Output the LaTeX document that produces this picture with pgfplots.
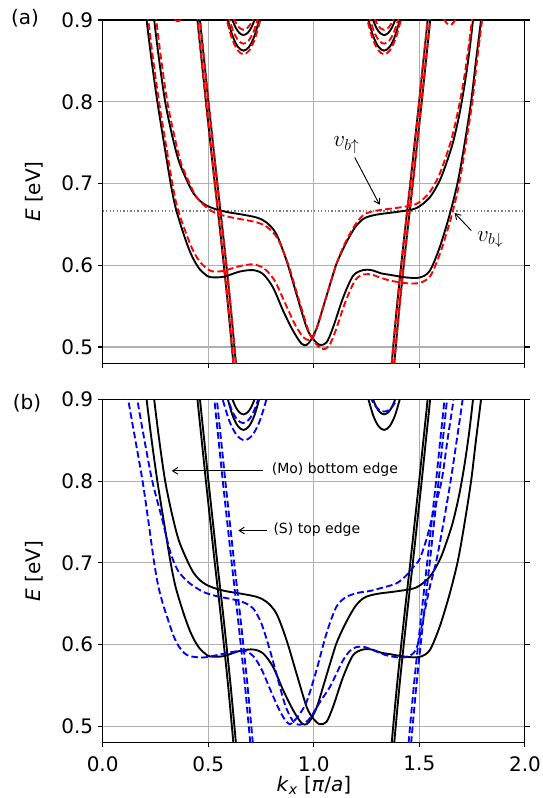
\documentclass[border=0pt]{standalone}
\usepackage[no-math]{fontspec}
\setmainfont{DejaVu Sans}
\usepackage{pgfplots}
\pgfplotsset{compat=1.18}
\usepackage{pgfplotstable}
\usetikzlibrary{arrows.meta}
\definecolor{gridgray}{RGB}{176,176,176}

% --- Mo-edge bands (black, same in both panels) ---
\pgfplotstableread{
k E
0.200 0.92
0.208 0.9
0.232 0.85
0.259 0.8
0.290 0.75
0.322 0.7
0.343 0.673
0.365 0.653
0.390 0.633
0.413 0.617
0.435 0.605
0.460 0.595
0.485 0.589
0.508 0.5855
0.571 0.5858
0.650 0.5923
0.713 0.594
0.760 0.5891
0.807 0.5727
0.855 0.5442
0.902 0.5197
0.942 0.5040
0.966 0.5026
0.989 0.5096
1.015 0.524
1.044 0.5483
1.075 0.575
1.107 0.6014
1.139 0.620
1.170 0.6355
1.200 0.648
1.233 0.6564
1.265 0.660
1.312 0.6625
1.407 0.6657
1.486 0.6699
1.549 0.6829
1.596 0.7033
1.628 0.725
1.659 0.750
1.690 0.785
1.715 0.822
1.736 0.860
1.754 0.9
1.760 0.92
}\Bone
\pgfplotstableread{
k E
0.238 0.92
0.244 0.9
0.268 0.85
0.296 0.80
0.328 0.76
0.360 0.728
0.400 0.703
0.430 0.688
0.460 0.679
0.492 0.673
0.542 0.668
0.600 0.6645
0.650 0.6625
0.729 0.6584
0.776 0.6523
0.823 0.638
0.871 0.6054
0.918 0.5646
0.966 0.5238
0.997 0.5096
1.028 0.5026
1.060 0.5054
1.091 0.5238
1.139 0.5605
1.186 0.587
1.233 0.594
1.273 0.594
1.320 0.590
1.360 0.5883
1.439 0.585
1.502 0.585
1.549 0.5931
1.596 0.6217
1.644 0.6625
1.683 0.7033
1.715 0.75
1.745 0.80
1.768 0.85
1.792 0.9
1.799 0.92
}\Btwo
% --- S-edge doublets (black) ---
\pgfplotstableread{
k E
0.444 0.92
0.449 0.9
0.469 0.85
0.489 0.8
0.510 0.75
0.531 0.7
0.553 0.65
0.574 0.6
0.594 0.55
0.612 0.5
0.619 0.48
0.627 0.46
}\Lone
\pgfplotstableread{
k E
0.456 0.92
0.461 0.9
0.481 0.85
0.501 0.8
0.522 0.75
0.543 0.7
0.565 0.65
0.586 0.6
0.606 0.55
0.624 0.5
0.631 0.48
0.639 0.46
}\Ltwo
\pgfplotstableread{
k E
1.556 0.92
1.551 0.9
1.531 0.85
1.511 0.8
1.490 0.75
1.469 0.7
1.447 0.65
1.426 0.6
1.406 0.55
1.388 0.5
1.381 0.48
1.373 0.46
}\Rone
\pgfplotstableread{
k E
1.544 0.92
1.539 0.9
1.519 0.85
1.499 0.8
1.478 0.75
1.457 0.7
1.435 0.65
1.414 0.6
1.394 0.55
1.376 0.5
1.369 0.48
1.361 0.46
}\Rtwo
% --- pockets at K (black) ---
\pgfplotstableread{
k E
0.6087 0.9039
0.6299 0.8906
0.6484 0.8839
0.667 0.8816
0.6856 0.8839
0.7041 0.8906
0.7253 0.9039
}\PKa
\pgfplotstableread{
k E
0.5845 0.9079
0.6145 0.8809
0.6407 0.8671
0.667 0.8625
0.6933 0.8671
0.7195 0.8809
0.7495 0.9079
}\PKb
\pgfplotstableread{
k E
1.2747 0.9039
1.2959 0.8906
1.3144 0.8839
1.333 0.8816
1.3516 0.8839
1.3701 0.8906
1.3913 0.9039
}\PKc
\pgfplotstableread{
k E
1.2505 0.9079
1.2805 0.8809
1.3067 0.8671
1.333 0.8625
1.3593 0.8671
1.3855 0.8809
1.4155 0.9079
}\PKd

\pgfplotsset{
  band/.style={
    width=316.7pt, height=257.5pt, scale only axis,
    xmin=0, xmax=2, ymin=0.48, ymax=0.9,
    xtick={0,0.5,1,1.5,2}, ytick={0.5,0.6,0.7,0.8,0.9},
    grid=major, major grid style={gridgray, line width=0.8pt},
    axis line style={line width=0.8pt},
    tick align=outside, xtick pos=left, ytick pos=both, yticklabel pos=left,
    major tick length=3.6pt, every tick/.style={black, line width=0.8pt},
    ticklabel style={font=\fontsize{15}{18}\selectfont},
    xticklabel style={yshift=-3pt, /pgf/number format/fixed, /pgf/number format/fixed zerofill,
      /pgf/number format/precision=1, /pgf/number format/assume math mode=true},
    yticklabel style={/pgf/number format/fixed, /pgf/number format/fixed zerofill,
      /pgf/number format/precision=1, /pgf/number format/assume math mode=true},
    ylabel={\textit{E} [eV]},
    every axis y label/.style={at={(axis description cs:-0.162,0.5)}, rotate=90,
      anchor=center, font=\fontsize{15}{18}\selectfont},
  },
  blk/.style={black, line width=1.4pt, smooth, tension=0.5, no marks},
  reddash/.style={red, line width=1.4pt, smooth, tension=0.5, no marks, dash pattern=on 5pt off 2.4pt},
  bluedash/.style={blue, line width=1.4pt, smooth, tension=0.5, no marks, dash pattern=on 5pt off 2.4pt},
}

\begin{document}
\begin{tikzpicture}
\useasboundingbox (0,0) rectangle (406.5pt,598.5pt);

% ================= panel (a) =================
\begin{axis}[band, at={(77pt,326pt)}, anchor=south west, xticklabel=\empty]
  \addplot[gray, line width=1pt, dash pattern=on 1pt off 1.6pt] coordinates {(0,0.6665) (2,0.6665)};
  \addplot[blk] table[x=k,y=E] {\Bone};
  \addplot[blk] table[x=k,y=E] {\Btwo};
  \addplot[blk] table[x=k,y=E] {\Lone};
  \addplot[blk] table[x=k,y=E] {\Ltwo};
  \addplot[blk] table[x=k,y=E] {\Rone};
  \addplot[blk] table[x=k,y=E] {\Rtwo};
  \addplot[blk] table[x=k,y=E] {\PKa};
  \addplot[blk] table[x=k,y=E] {\PKb};
  \addplot[blk] table[x=k,y=E] {\PKc};
  \addplot[blk] table[x=k,y=E] {\PKd};
  % spin down (red)
  \addplot[reddash] coordinates {
    (0.208,0.92) (0.216,0.9) (0.240,0.85) (0.267,0.8) (0.298,0.75) (0.330,0.7)
    (0.351,0.673) (0.373,0.655) (0.398,0.637) (0.421,0.622) (0.443,0.611) (0.468,0.602)
    (0.493,0.596) (0.520,0.5925) (0.571,0.593) (0.650,0.599) (0.713,0.601) (0.765,0.596) (0.815,0.581)
    (0.865,0.553) (0.912,0.527) (0.950,0.512) (0.975,0.5085) (0.995,0.511) (1.015,0.524)
    (1.044,0.5483) (1.075,0.575) (1.107,0.6014) (1.139,0.622) (1.170,0.638) (1.200,0.651)
    (1.233,0.661) (1.265,0.665) (1.312,0.6675) (1.407,0.6707) (1.486,0.675) (1.545,0.688)
    (1.590,0.708) (1.622,0.73) (1.653,0.755) (1.684,0.79) (1.710,0.826) (1.731,0.863)
    (1.749,0.9) (1.755,0.92)};
  \addplot[reddash] coordinates {
    (0.248,0.92) (0.254,0.9) (0.278,0.85) (0.306,0.80) (0.338,0.76) (0.370,0.726) (0.410,0.701)
    (0.440,0.685) (0.470,0.676) (0.500,0.669) (0.542,0.663) (0.600,0.659) (0.650,0.6565)
    (0.729,0.6525) (0.780,0.6465) (0.830,0.632) (0.880,0.600) (0.928,0.559) (0.976,0.519)
    (1.007,0.505) (1.038,0.4975) (1.070,0.5005) (1.102,0.519) (1.150,0.5555) (1.197,0.582)
    (1.240,0.589) (1.280,0.588) (1.325,0.584) (1.365,0.581) (1.440,0.578) (1.502,0.5785)
    (1.552,0.587) (1.600,0.616) (1.650,0.658) (1.689,0.7) (1.721,0.75) (1.751,0.80)
    (1.773,0.85) (1.797,0.9) (1.804,0.92)};
  \addplot[reddash] table[x=k,y=E] {\Lone};
  \addplot[reddash] table[x=k,y=E] {\Ltwo};
  \addplot[reddash] table[x=k,y=E] {\Rone};
  \addplot[reddash] table[x=k,y=E] {\Rtwo};
  \addplot[reddash] coordinates {(0.6197,0.9025) (0.6369,0.8939) (0.6519,0.8895) (0.667,0.888) (0.6821,0.8895) (0.6971,0.8939) (0.7143,0.9025)};
  \addplot[reddash] coordinates {(0.5935,0.9061) (0.6202,0.8852) (0.6436,0.8746) (0.667,0.871) (0.6904,0.8746) (0.7138,0.8852) (0.7405,0.9061)};
  \addplot[reddash] coordinates {(0.5786,0.9088) (0.6107,0.8786) (0.6389,0.8631) (0.667,0.858) (0.6951,0.8631) (0.7233,0.8786) (0.7554,0.9088)};
  \addplot[reddash] coordinates {(1.2857,0.9025) (1.3029,0.8939) (1.3179,0.8895) (1.333,0.888) (1.3481,0.8895) (1.3631,0.8939) (1.3803,0.9025)};
  \addplot[reddash] coordinates {(1.2595,0.9061) (1.2862,0.8852) (1.3096,0.8746) (1.333,0.871) (1.3564,0.8746) (1.3798,0.8852) (1.4065,0.9061)};
  \addplot[reddash] coordinates {(1.2446,0.9088) (1.2767,0.8786) (1.3049,0.8631) (1.333,0.858) (1.3611,0.8631) (1.3893,0.8786) (1.4214,0.9088)};
  \addplot[reddash] coordinates {(1.6165,0.9013) (1.6265,0.8969) (1.6352,0.8947) (1.644,0.894) (1.6528,0.8947) (1.6615,0.8969) (1.6715,0.9013)};
  \addplot[reddash] coordinates {(0.3423,0.9003) (0.3473,0.8992) (0.3516,0.8987) (0.356,0.8985) (0.3604,0.8987) (0.3648,0.8992) (0.3698,0.9003)};
  % annotations
  \node[font=\LARGE] at (axis cs:1.155,0.7467) {$v_{b\uparrow}$};
  \draw[-{Straight Barb[length=4pt,width=5pt]}, line width=0.7pt] (axis cs:1.194,0.7318) -- (axis cs:1.312,0.6739);
  \node[font=\LARGE] at (axis cs:1.836,0.6313) {$v_{b\downarrow}$};
  \draw[-{Straight Barb[length=4pt,width=5pt]}, line width=0.7pt] (axis cs:1.746,0.6424) -- (axis cs:1.667,0.6639);
\end{axis}

% ================= panel (b) =================
\begin{axis}[band, at={(77pt,41.5pt)}, anchor=south west,
    xlabel={\textit{k}\textsubscript{\textit{x}} [\textit{π}/\textit{a}]},
    every axis x label/.style={at={(axis description cs:0.5,-0.125)}, anchor=center,
      font=\fontsize{15}{18}\selectfont}]
  \addplot[blk] table[x=k,y=E] {\Bone};
  \addplot[blk] table[x=k,y=E] {\Btwo};
  \addplot[blk] table[x=k,y=E] {\Lone};
  \addplot[blk] table[x=k,y=E] {\Ltwo};
  \addplot[blk] table[x=k,y=E] {\Rone};
  \addplot[blk] table[x=k,y=E] {\Rtwo};
  \addplot[blk] table[x=k,y=E] {\PKa};
  \addplot[blk] table[x=k,y=E] {\PKb};
  \addplot[blk] table[x=k,y=E] {\PKc};
  \addplot[blk] table[x=k,y=E] {\PKd};
  % separated edges (blue)
  \addplot[bluedash] coordinates {
    (0.113,0.92) (0.121,0.9) (0.155,0.85) (0.189,0.8) (0.217,0.75) (0.244,0.7)
    (0.263,0.672) (0.285,0.650) (0.310,0.630) (0.335,0.611) (0.360,0.598) (0.385,0.590)
    (0.413,0.5858) (0.476,0.5842) (0.540,0.587) (0.618,0.5911) (0.673,0.5923) (0.713,0.586)
    (0.752,0.570) (0.792,0.546) (0.831,0.523) (0.863,0.508) (0.886,0.5026) (0.905,0.506)
    (0.930,0.514) (0.966,0.530) (1.013,0.569) (1.060,0.6136) (1.107,0.6462) (1.155,0.6584)
    (1.218,0.6638) (1.265,0.6655) (1.312,0.6687) (1.391,0.6748) (1.439,0.6849) (1.478,0.697)
    (1.502,0.705) (1.535,0.73) (1.565,0.76) (1.605,0.80) (1.633,0.85) (1.662,0.9) (1.669,0.92)};
  \addplot[bluedash] coordinates {
    (0.157,0.92) (0.164,0.9) (0.198,0.85) (0.235,0.8) (0.285,0.75) (0.315,0.718) (0.340,0.699)
    (0.366,0.687) (0.413,0.6748) (0.476,0.6645) (0.540,0.6592) (0.618,0.6552) (0.673,0.651)
    (0.713,0.6442) (0.752,0.6258) (0.792,0.5932) (0.831,0.5564) (0.863,0.527) (0.890,0.511)
    (0.912,0.5035) (0.937,0.502) (0.962,0.505) (0.985,0.511) (1.030,0.530) (1.076,0.548)
    (1.110,0.566) (1.139,0.581) (1.170,0.592) (1.202,0.597) (1.240,0.597) (1.281,0.5932)
    (1.320,0.589) (1.360,0.5858) (1.423,0.5842) (1.470,0.589) (1.494,0.6014) (1.517,0.630)
    (1.549,0.670) (1.581,0.703) (1.615,0.75) (1.648,0.80) (1.677,0.85) (1.705,0.9) (1.712,0.92)};
  \addplot[bluedash] coordinates {(0.524,0.92) (0.529,0.9) (0.549,0.85) (0.569,0.8) (0.590,0.75) (0.611,0.7) (0.633,0.65) (0.654,0.6) (0.674,0.55) (0.692,0.5) (0.699,0.48) (0.707,0.46)};
  \addplot[bluedash] coordinates {(0.536,0.92) (0.541,0.9) (0.561,0.85) (0.581,0.8) (0.602,0.75) (0.623,0.7) (0.645,0.65) (0.666,0.6) (0.686,0.55) (0.704,0.5) (0.711,0.48) (0.719,0.46)};
  \addplot[bluedash] coordinates {(1.636,0.92) (1.631,0.9) (1.611,0.85) (1.591,0.8) (1.570,0.75) (1.549,0.7) (1.527,0.65) (1.506,0.6) (1.486,0.55) (1.468,0.5) (1.461,0.48) (1.453,0.46)};
  \addplot[bluedash] coordinates {(1.624,0.92) (1.619,0.9) (1.599,0.85) (1.579,0.8) (1.558,0.75) (1.537,0.7) (1.515,0.65) (1.494,0.6) (1.474,0.55) (1.456,0.5) (1.449,0.48) (1.441,0.46)};
  \addplot[bluedash] coordinates {(0.5851,0.9061) (0.6142,0.8852) (0.6396,0.8746) (0.665,0.871) (0.6904,0.8746) (0.7158,0.8852) (0.7449,0.9061)};
  \addplot[bluedash] coordinates {(0.5565,0.9105) (0.5985,0.8745) (0.6352,0.8561) (0.672,0.85) (0.7088,0.8561) (0.7455,0.8745) (0.7875,0.9105)};
  \addplot[bluedash] coordinates {(1.2659,0.9032) (1.2903,0.8924) (1.3116,0.8868) (1.333,0.885) (1.3544,0.8868) (1.3757,0.8924) (1.4001,0.9032)};
  % annotations
  \draw[-{Straight Barb[length=4pt,width=5pt]}, line width=0.7pt] (axis cs:0.76,0.8125) -- (axis cs:0.327,0.8125);
  \node[anchor=west, inner sep=0pt, font=\fontsize{10.5}{12}\selectfont] at (axis cs:0.80,0.8135) {(Mo) bottom edge};
  \draw[-{Straight Barb[length=4pt,width=5pt]}, line width=0.7pt] (axis cs:0.776,0.7395) -- (axis cs:0.642,0.7395);
  \node[anchor=west, inner sep=0pt, font=\fontsize{10.5}{12}\selectfont] at (axis cs:0.808,0.7405) {(S) top edge};
\end{axis}

\node[font=\fontsize{15}{18}\selectfont] at (18.75pt,585pt) {(a)};
\node[font=\fontsize{15}{18}\selectfont] at (20.25pt,296.25pt) {(b)};
\end{tikzpicture}
\end{document}
